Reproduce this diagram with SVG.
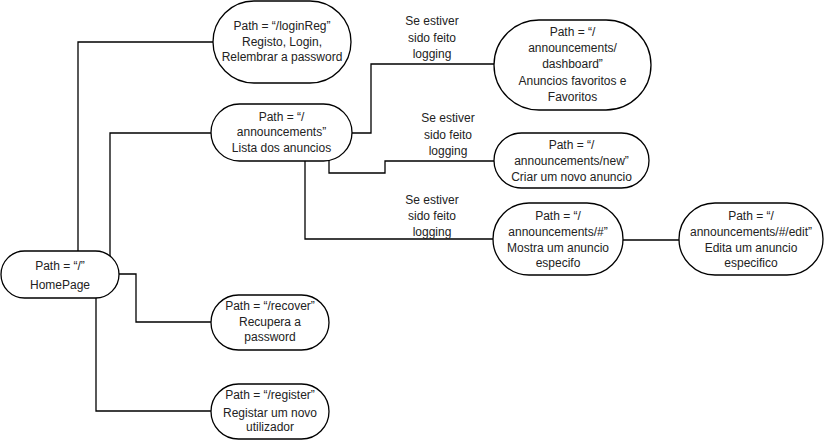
<svg xmlns="http://www.w3.org/2000/svg" width="826" height="441" viewBox="0 0 826 441">
<style>
.n{fill:#fff;stroke:#000;stroke-width:1.3}
.c{fill:none;stroke:#000;stroke-width:1.3}
text{font-family:"Liberation Sans",Arial,sans-serif;font-size:12px;fill:#222;text-anchor:middle}
</style>
<rect width="826" height="441" fill="#fff"/>
<g id="connectors">
<polyline class="c" points="78,251 78,42 213,42"/>
<polyline class="c" points="110,256 110,133 211,133"/>
<polyline class="c" points="119,274 136,274 136,322 211,322"/>
<polyline class="c" points="96,298 96,411 211,411"/>
<polyline class="c" points="352,133 371,133 371,64 494,64"/>
<polyline class="c" points="329,159 329,173 385,173 385,161 494,161"/>
<polyline class="c" points="305,161 305,239 493,239"/>
<line class="c" x1="623" y1="240" x2="679" y2="240"/>
</g>
<g id="labels">
<text x="432" y="25">Se estiver</text>
<text x="432" y="42">sido feito</text>
<text x="432" y="58">logging</text>
<text x="448" y="122">Se estiver</text>
<text x="448" y="139">sido feito</text>
<text x="448" y="155">logging</text>
<text x="432" y="204">Se estiver</text>
<text x="432" y="220">sido feito</text>
<text x="432" y="236">logging</text>
</g>
<g id="home">
<rect class="n" x="1" y="251" width="118" height="47" rx="23.5"/>
<text x="60" y="270">Path = “/”</text>
<text x="60" y="289">HomePage</text>
</g>
<g id="loginReg">
<rect class="n" x="213" y="1" width="138" height="82" rx="41"/>
<text x="282" y="30">Path = “/loginReg”</text>
<text x="282" y="46">Registo, Login,</text>
<text x="282" y="61">Relembrar a password</text>
</g>
<g id="announcements">
<rect class="n" x="211" y="104" width="141" height="57" rx="28.5"/>
<text x="281.5" y="121">Path = “/</text>
<text x="281.5" y="136">announcements”</text>
<text x="281.5" y="152">Lista dos anuncios</text>
</g>
<g id="dashboard">
<rect class="n" x="494" y="20" width="157" height="90" rx="45"/>
<text x="572.5" y="36">Path = “/</text>
<text x="572.5" y="52">announcements/</text>
<text x="572.5" y="68">dashboard”</text>
<text x="572.5" y="85">Anuncios favoritos e</text>
<text x="572.5" y="101">Favoritos</text>
</g>
<g id="new">
<rect class="n" x="494" y="133" width="155" height="55" rx="27.5"/>
<text x="571.5" y="149">Path = “/</text>
<text x="571.5" y="165">announcements/new”</text>
<text x="571.5" y="181">Criar um novo anuncio</text>
</g>
<g id="show">
<rect class="n" x="493" y="203" width="130" height="72" rx="36"/>
<text x="558" y="220">Path = “/</text>
<text x="558" y="236">announcements/#”</text>
<text x="558" y="252">Mostra um anuncio</text>
<text x="558" y="267">especifo</text>
</g>
<g id="edit">
<rect class="n" x="679" y="203" width="144" height="72" rx="36"/>
<text x="751" y="220">Path = “/</text>
<text x="751" y="236">announcements/#/edit”</text>
<text x="751" y="252">Edita um anuncio</text>
<text x="751" y="267">especifico</text>
</g>
<g id="recover">
<rect class="n" x="211" y="295" width="118" height="55" rx="27.5"/>
<text x="270" y="310">Path = “/recover”</text>
<text x="270" y="326">Recupera a</text>
<text x="270" y="341">password</text>
</g>
<g id="register">
<rect class="n" x="211" y="384" width="118" height="55" rx="27.5"/>
<text x="270" y="399">Path = “/register”</text>
<text x="270" y="417">Registar um novo</text>
<text x="270" y="431">utilizador</text>
</g>
</svg>
